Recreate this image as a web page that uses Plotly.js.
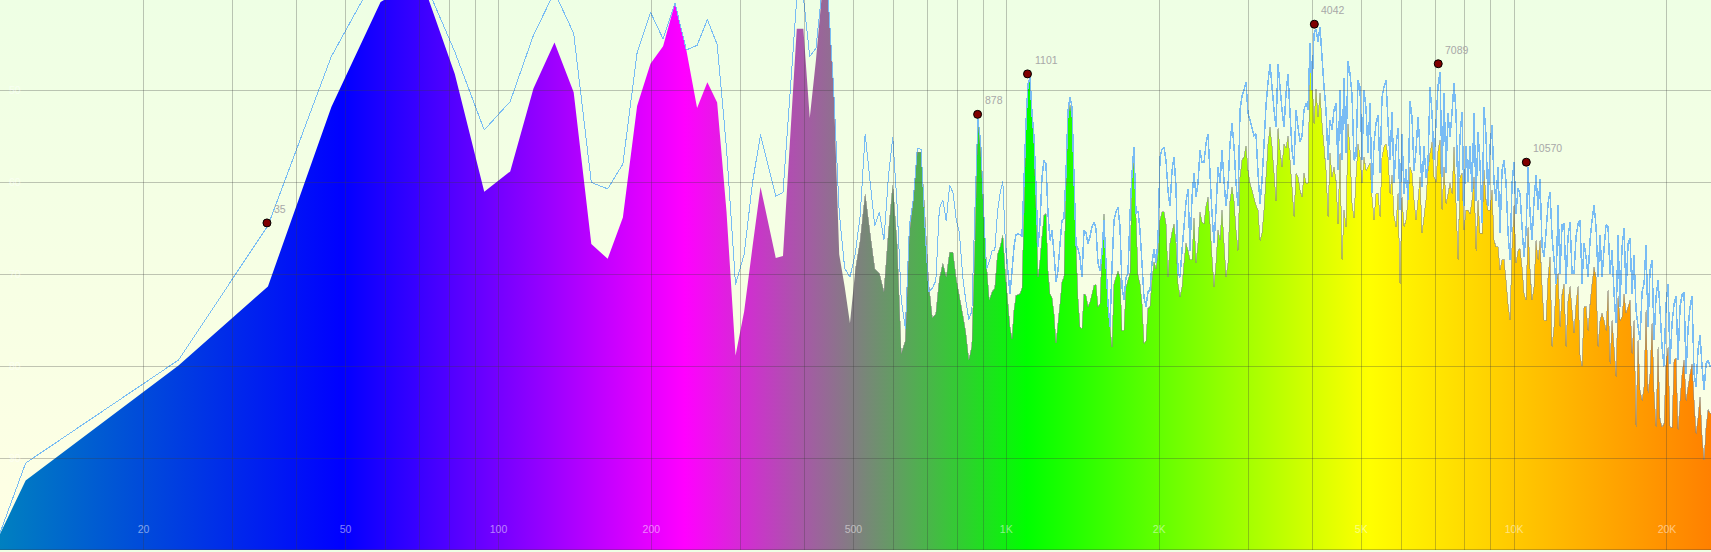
<!DOCTYPE html>
<html><head><meta charset="utf-8">
<script src="https://cdn.plot.ly/plotly-3.0.1.min.js"></script>
<style>html,body{margin:0;padding:0;background:#eeffe4;overflow:hidden}.js-line{shape-rendering:crispEdges}</style>
</head><body><div id="chart"></div>
<script>
// FFT bin width of the analyser (48000 / 4096) and axis ends, Hz
const binHz = 11.71875;
const leftHz = 10.432, rightHz = 24420;
// attenuation in dB below full scale, left edge then bins 1..85
const lowFill = [98.2,92.4,79.9,71.3,51.8,40.4,37.7,48.2,61,58.8,49.8,44.8,50.2,66.7,68.3,63.8,51.7,47.1,45.2,40.5,45.6,51.9,49.1,51.3,63.2,78.8,74,67,60.5,64.4,68.2,68,55.5,43.3,43.3,53,46.7,39.4,39.7,49.4,67.8,71.3,75.3,69.7,66.3,61.3,
65.5,69.4,69.9,71.9,65.5,60.3,66.7,78.6,77.2,65.5,61.9,56.7,56.7,63.6,70.9,74.7,74.3,70.5,68.8,70.3,67.6,67.6,70.5,72.4,74.3,76.3,79.3,77.8,67,53.2,56.7,63.2,69,72.8,71.9,71.5,67.8,67,65.7,70.1];
const lowPeak = [98.1,90.5,79.3,64.7,46.3,36.6,37.2,45.8,54.3,51.2,44,39.3,43.8,60,60.7,58,45.9,41.5,44.4,40.5,45.6,45.1,42.3,45,56.3,71.1,67.8,60,54.8,58.2,61.5,61.1,50.5,39.95,39.8,46.3,45.4,39.1,39.4,49.7,63.2,69.3,70.3,67.8,63.6,54.7,
59.8,64.7,63.2,66.3,59.4,55.1,62.4,72.8,75.9,64.7,61.7,56.3,56.4,64.7,71.9,71.5,70.7,62.8,61.9,64.2,60.3,61.1,64,65.5,70.1,72.8,74.9,74,63.2,53,55.5,62.8,69.4,68.6,67.4,67.4,63.2,61.1,59.9,66.7];
// display columns above 1 kHz, one reading per column
const denseStartHz = 1016.9, denseRatio = 1.009111;
const denseFill = [75.7,77,73.9,72.3,72.2,72.1,71.5,63.4,53.6,49.4,48.9,52.5,55.8,62.7,70.3,68.5,65.9,63.6,63.4,69.6,72.1,72.5,74.3,77.5,75.3,73.2,70.8,70.3,60.5,52.9,51.6,52.9,59.8,67,72.6,75.7,75.9,72.1,72.3,73.5,73,72.1,71.2,71.1,73.5,73.2,67.4,63.4,69.2,72.8,75.7,77.9,71,70.3,69.6,70.3,76.1,76.1,71.4,70.6,69.9,59.4,57.6,63.8,70.1,71,73.2,77.5,77.2,73.7,73.5,70.6,68.6,69.4,67.7,64.1,63.2,63.2,64.5,70.3,
66.6,65.4,64.5,66.6,71,72.4,71.4,68.8,66.6,67.4,68.4,68.4,63.9,68.8,66.6,63.2,64.3,64.5,62.6,61.6,64.5,68.1,71.4,68.8,65.2,66.3,63,66.6,70.3,68.8,62,60.5,62,65.2,67.4,59.4,57.6,57.2,56,58.7,60.1,60.8,61.7,62.5,63,66.3,65.5,63,59.4,55.8,54,56.1,59,62,54.1,56.5,58.3,55.8,56.3,55,57.6,60.5,63.7,59,59.4,60.8,61.6,59,60.1,60.1,46.7,48.2,53.6,49.8,52.9,50.3,53.6,56.1,58.7,63.7,56.8,59.4,58.3,59.8,64.5,
56.8,68.4,63,64.8,53.6,56.5,62.3,63.9,59.4,55.8,57.2,60.1,57.2,58.7,58.3,57.9,61.6,64.1,61.2,61.2,63.7,57.2,56.1,55.8,57.2,61.2,59.2,63.7,64.8,61.2,71,61.6,64.8,64.1,61.9,58.3,59,61.9,64.1,61.9,59.4,65.5,63.7,61.9,58.7,56.8,55.6,59.4,59.9,56.5,55.4,63,58.3,62.3,61.2,60.1,61.2,56.1,62.3,68.4,59.4,59,65.2,63,63,63.4,61.9,59.4,67.4,61.9,65.5,65.5,58.7,61.9,63,63,60.8,66.3,67,67,69.5,68.4,68.4,70.6,73.2,
75,67,62.5,68.8,67.4,67.2,69.2,72.1,72.8,64.8,69.5,72.8,71.3,66.3,68.4,66.3,71.3,75,75,70.3,68.1,77.9,75.7,71,69.9,75.7,72.1,71,77.9,72.8,71.3,73.9,76.4,73.2,71.3,78.9,80,73.5,73.5,76.1,73.2,71,69.2,70.3,77.9,75,74.2,75,76.1,71.7,79.7,75,77.9,81.1,72.4,75,74.6,72.1,74.2,73.5,72.8,78.6,75,86.6,77.1,82.6,83.7,82.2,73.9,82.9,80.8,75.3,82.9,86.6,77.9,85.8,86.6,86.2,79.7,77.9,86.6,86.6,79.3,79.1,86.9,83.7,80.8,79.3,83.7,82.2,80.8,79.7,83.7,87.3,85.5,83.3,87.6,90.2,86.6,84.7,85.1];
const densePeak = [72.1,69.7,67,65.7,65.6,65.7,65.9,59.8,53.6,49.3,48.6,52.5,55,60.5,67,64.5,59.4,57.6,58,63.4,66.3,65.2,67.7,70.8,69.6,66.7,64.1,63.9,59,52.2,50.7,51.8,59.4,66.8,67.2,68.1,70.3,65.2,65.4,66.7,65.9,64.8,64.3,65,68.8,69.6,67.6,64.1,68.8,73.2,75.7,69.2,64.1,63.2,62.7,64.8,71.4,72.8,70.3,69.9,63.4,59,56.1,63.4,63.1,65.2,68.8,72.5,73.5,71.9,71.7,68.8,67.2,68.8,66.3,57.2,56.4,56.2,57.6,60.9,
62.6,58.7,57.2,60.5,69.9,70.3,67.4,64.8,62.1,60.7,67.4,61.6,59,61.6,60.1,56.5,57.8,57.8,55.8,54.7,59,63.4,66.6,63,58.3,60.1,56.5,59.8,62.6,60.5,55.8,53.6,56.1,60.1,62.6,52.1,50.6,50,49.1,52.5,53.2,54.1,54.9,54.7,59,62.3,59.8,55.8,51.6,49.1,47.1,49.6,52.1,54,47.1,49.6,52.1,54,50.3,48.2,52.5,56.5,58.1,52.1,54,55.6,55,52.1,51.4,52.1,44.9,50,43.8,43.3,44.7,43.1,46.4,49.6,52.1,57.6,53.2,54.3,52.1,51.4,58.7,
50,57.6,48.6,56.8,46.8,48.2,50.5,57.6,57.2,48.9,49.6,57.6,50,52,56.8,51.4,61.2,55.8,53.6,52.7,59,50.7,49.6,48.9,53.5,57.6,52.3,60.1,56,54.1,63,54.7,61.2,58.5,61.9,51.2,52.9,58.7,56.5,52.9,56.5,60.5,56,59.5,58,49.6,52.5,57.6,53.6,49.5,48,59.4,50.3,59,52.5,55,52.4,49.2,52.5,62,55,52.3,62.6,56,60,56,61,52.5,62,54.5,58,64.4,51.8,55,62.6,56.1,53.8,60,62,58.3,65.5,58.7,57.6,60,65.5,
68.4,60.1,57.8,63.4,60.6,61.2,64.8,68.1,65.5,58.3,63.4,66.3,61.9,59.2,63,59.6,67,68.1,65.4,62.3,61,65.9,68.4,71,62.5,69.9,64.6,64.5,71,65.9,64.3,69.9,69.9,65.9,64.5,64.1,71,66.6,68.1,70.3,66.3,64.1,62.5,64.8,70.3,65.7,70.3,67.2,64.6,64.8,69.9,67.4,72.1,75.3,65.7,73.5,67,65,72.1,66.6,66.1,72.1,67.9,73.9,75.7,77.1,71.9,71,66.8,75.7,69.5,68.4,77.1,72.4,70.6,73.9,77.9,80,73.2,71,79.7,75.3,73.2,72.4,79.3,73.5,72.2,71.9,80.8,75.9,73.5,72.4,80.8,82.2,78.2,76.6,80,82.6,79.7,79.3,80];
// detected peaks
const peakHz = [35,878,1101,4042,7089,10570];
const peakDb = [64.4,52.6,48.2,42.8,47.1,57.8];
const peakLabels = ['35','878','1101','4042','7089','10570'];
// axes
const gridHz = [20,30,40,50,60,70,80,90,100,200,300,400,500,600,700,800,900,1000,2000,3000,4000,5000,6000,7000,8000,9000,10000,20000];
const gridDb = [50,60,70,80,90,99.9];
const xTickVals = [20,50,100,200,500,1000,2000,5000,10000,20000];
const xTickText = ['20','50','100','200','500','1K','2K','5K','10K','20K'];
const yTickVals = [50,60,70,80,90];
const yTickText = ['50','60','70','80','90'];
const topDb = 40.17, bottomDb = 99.95;
// colours
const spectrumColours = ['#0080c0','#0000ff','#ff00ff','#00ff00','#ffff00','#ff8000'];
const bgTop = '#eeffe4', bgBottom = '#ffffe4';

const lowHz = lowFill.map((_, i) => i === 0 ? leftHz : i * binHz);
const denseHz = denseFill.map((_, i) => denseStartHz * Math.pow(denseRatio, i));
const allHz = lowHz.concat(denseHz, [rightHz]);
const allFill = lowFill.concat(denseFill, [denseFill[denseFill.length - 1]]);
const allPeak = lowPeak.concat(densePeak, [densePeak[densePeak.length - 1]]);
const outlineFrom = 43;
const lineSplit = lowFill.length - 1;

const vx = [], vy = [];
gridHz.forEach(h => { vx.push(h, h, null); vy.push(topDb, bottomDb, null); });
const hx = [], hy = [];
gridDb.forEach(d => { hx.push(leftHz, rightHz, null); hy.push(d, d, null); });

const traces = [
  {x:[leftHz,rightHz,rightHz,leftHz], y:[topDb,topDb,bottomDb,bottomDb], mode:'none', fill:'toself',
   fillgradient:{type:'vertical', colorscale:[[0,bgBottom],[1,bgTop]]}, hoverinfo:'skip', showlegend:false},
  {x:allHz.concat([rightHz,leftHz]), y:allFill.concat([100,100]), mode:'lines', line:{width:0, simplify:false}, fill:'toself',
   fillgradient:{type:'horizontal', colorscale:spectrumColours.map((c,i)=>[i/(spectrumColours.length-1),c])}, hoverinfo:'skip', showlegend:false},
  {x:allHz.slice(outlineFrom), y:allFill.slice(outlineFrom), mode:'lines', line:{color:'rgba(130,130,130,0.55)', width:1, simplify:false}, hoverinfo:'skip', showlegend:false},
  {x:allHz.slice(0,lineSplit+1), y:allPeak.slice(0,lineSplit+1), mode:'lines', line:{color:'#78bcf4', width:1, simplify:false}, hoverinfo:'skip', showlegend:false},
  {x:allHz.slice(lineSplit), y:allPeak.slice(lineSplit), mode:'lines', line:{color:'#78bcf4', width:1.5, simplify:false}, hoverinfo:'skip', showlegend:false},
  {x:vx, y:vy, mode:'lines', line:{color:'rgba(60,60,60,0.3)', width:1}, hoverinfo:'skip', showlegend:false},
  {x:hx, y:hy, mode:'lines', line:{color:'rgba(60,60,60,0.3)', width:1}, hoverinfo:'skip', showlegend:false},
  {x:peakHz, y:peakDb, mode:'markers', marker:{color:'#800000', size:8, line:{color:'#000', width:1}}, showlegend:false}
];
const layout = {
  width:1711, height:552, autosize:false, showlegend:false,
  margin:{l:0,r:0,t:0,b:2,pad:0},
  paper_bgcolor:bgTop, plot_bgcolor:bgTop,
  font:{family:'"Liberation Sans", Arial, sans-serif', size:10.5, color:'rgba(255,255,255,0.5)'},
  xaxis:{type:'log', range:[Math.log10(leftHz),Math.log10(rightHz)], tickmode:'array', tickvals:xTickVals, ticktext:xTickText,
         ticklabelposition:'inside', ticklen:0, ticklabelstandoff:12, showgrid:false, zeroline:false, showline:false,
         tickfont:{size:10.5,color:'rgba(255,255,255,0.5)'}},
  yaxis:{range:[bottomDb,topDb], tickmode:'array', tickvals:yTickVals, ticktext:yTickText,
         ticklabelposition:'inside', ticklen:0, ticklabelstandoff:6, showgrid:false, zeroline:false, showline:false,
         tickfont:{size:10.5,color:'rgba(255,255,255,0.55)'}},
  annotations: peakHz.map((h,i)=>({x:Math.log10(h), y:peakDb[i], xref:'x', yref:'y', text:peakLabels[i], showarrow:false,
     xanchor:'left', yanchor:'middle', xshift:5, yshift:14, font:{size:10.5,color:'#a8a8a8',family:'"Liberation Sans", Arial, sans-serif'}}))
};
Plotly.newPlot('chart', traces, layout, {staticPlot:true, displayModeBar:false});
</script></body></html>
